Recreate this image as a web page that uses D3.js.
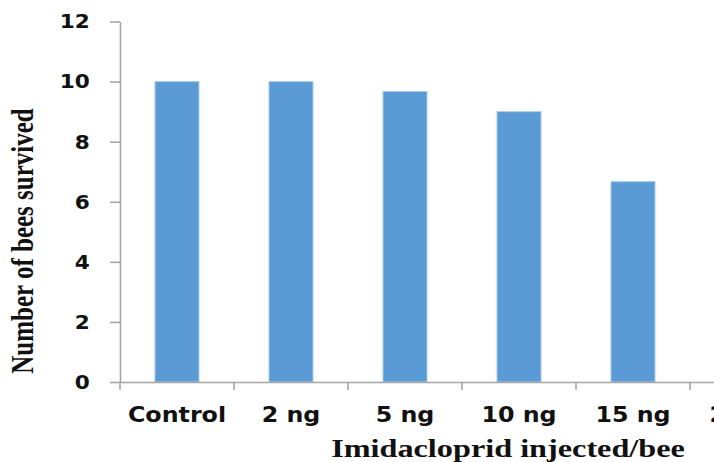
<!DOCTYPE html>
<html>
<head>
<meta charset="utf-8">
<script src="https://cdn.jsdelivr.net/npm/d3@7"></script>
<style>
  body { margin: 0; background: white; }
</style>
</head>
<body>
<script>
// data
const categories = ["Control", "2 ng", "5 ng", "10 ng", "15 ng", "20 ng"];
const survived = [10, 10, 9.67, 9, 6.67];
const yTicks = [0, 2, 4, 6, 8, 10, 12];

const width = 714, height = 462;
const plotLeft = 120, plotBottom = 382, plotTop = 21.5;
const slot = 114;
const stretch = 1.08; // the picture is a bit wide

const svg = d3.select("body").append("svg")
    .attr("width", width)
    .attr("height", height)
    .style("background-color", "white");

// one slot per category, bar sits in the middle of it
const x = d3.scaleBand()
    .domain(categories)
    .range([plotLeft, plotLeft + slot * categories.length])
    .paddingInner(0.614)
    .paddingOuter(0.307);

const y = d3.scaleLinear()
    .domain([0, 12])
    .range([plotBottom, plotTop]);

const axisColor = "#a6a6a6";

// bars
svg.selectAll("rect.bar")
    .data(survived)
    .enter()
    .append("rect")
    .attr("class", "bar")
    .attr("x", (d, i) => x(categories[i]))
    .attr("y", d => y(d))
    .attr("width", x.bandwidth())
    .attr("height", d => plotBottom - y(d))
    .attr("fill", "#5b9bd5")
    .attr("stroke", "#a9cbea")
    .attr("stroke-width", 1);

// y axis
const yAxis = svg.append("g")
    .attr("transform", "translate(" + plotLeft + ",0)")
    .call(d3.axisLeft(y).tickValues(yTicks).tickSize(10).tickPadding(18).tickSizeOuter(0));
yAxis.select(".domain").attr("stroke", axisColor).attr("stroke-width", 1.6);
yAxis.selectAll(".tick line").attr("stroke", axisColor).attr("stroke-width", 1.6);
yAxis.selectAll(".tick text")
    .attr("font-family", "DejaVu Sans")
    .attr("font-weight", "bold")
    .attr("font-size", 20)
    .attr("fill", "#111")
    .attr("transform", "scale(" + stretch + ",1)");

// x axis: labels under the bars, ticks on the slot boundaries
const xAxis = svg.append("g")
    .attr("transform", "translate(0," + plotBottom + ")")
    .call(d3.axisBottom(x).tickSize(0).tickSizeOuter(0));
xAxis.select(".domain").attr("stroke", axisColor).attr("stroke-width", 1.6);
xAxis.selectAll(".tick text")
    .attr("dy", null)
    .attr("y", 40)
    .attr("font-family", "DejaVu Sans")
    .attr("font-weight", "bold")
    .attr("font-size", 22)
    .attr("fill", "#111")
    .attr("transform", "scale(" + stretch + ",1)");

const edges = categories.map(c => x(c) - x.step() * x.paddingOuter());
edges.push(plotLeft + slot * categories.length);
xAxis.selectAll("line.edge")
    .data(edges)
    .enter()
    .append("line")
    .attr("class", "edge")
    .attr("x1", d => d).attr("x2", d => d)
    .attr("y1", 0).attr("y2", 8)
    .attr("stroke", axisColor)
    .attr("stroke-width", 1.6);

// axis titles
svg.append("text")
    .text("Imidacloprid injected/bee")
    .attr("text-anchor", "middle")
    .attr("font-family", "Liberation Serif")
    .attr("font-weight", "bold")
    .attr("font-size", 25)
    .attr("fill", "#111")
    .attr("transform", "translate(508,457) scale(1.29,1)");

svg.append("text")
    .text("Number of bees survived")
    .attr("text-anchor", "middle")
    .attr("font-family", "Liberation Serif")
    .attr("font-weight", "bold")
    .attr("font-size", 25)
    .attr("fill", "#111")
    .attr("transform", "translate(33,241) scale(1.29,1) rotate(-90)");
</script>
</body>
</html>
